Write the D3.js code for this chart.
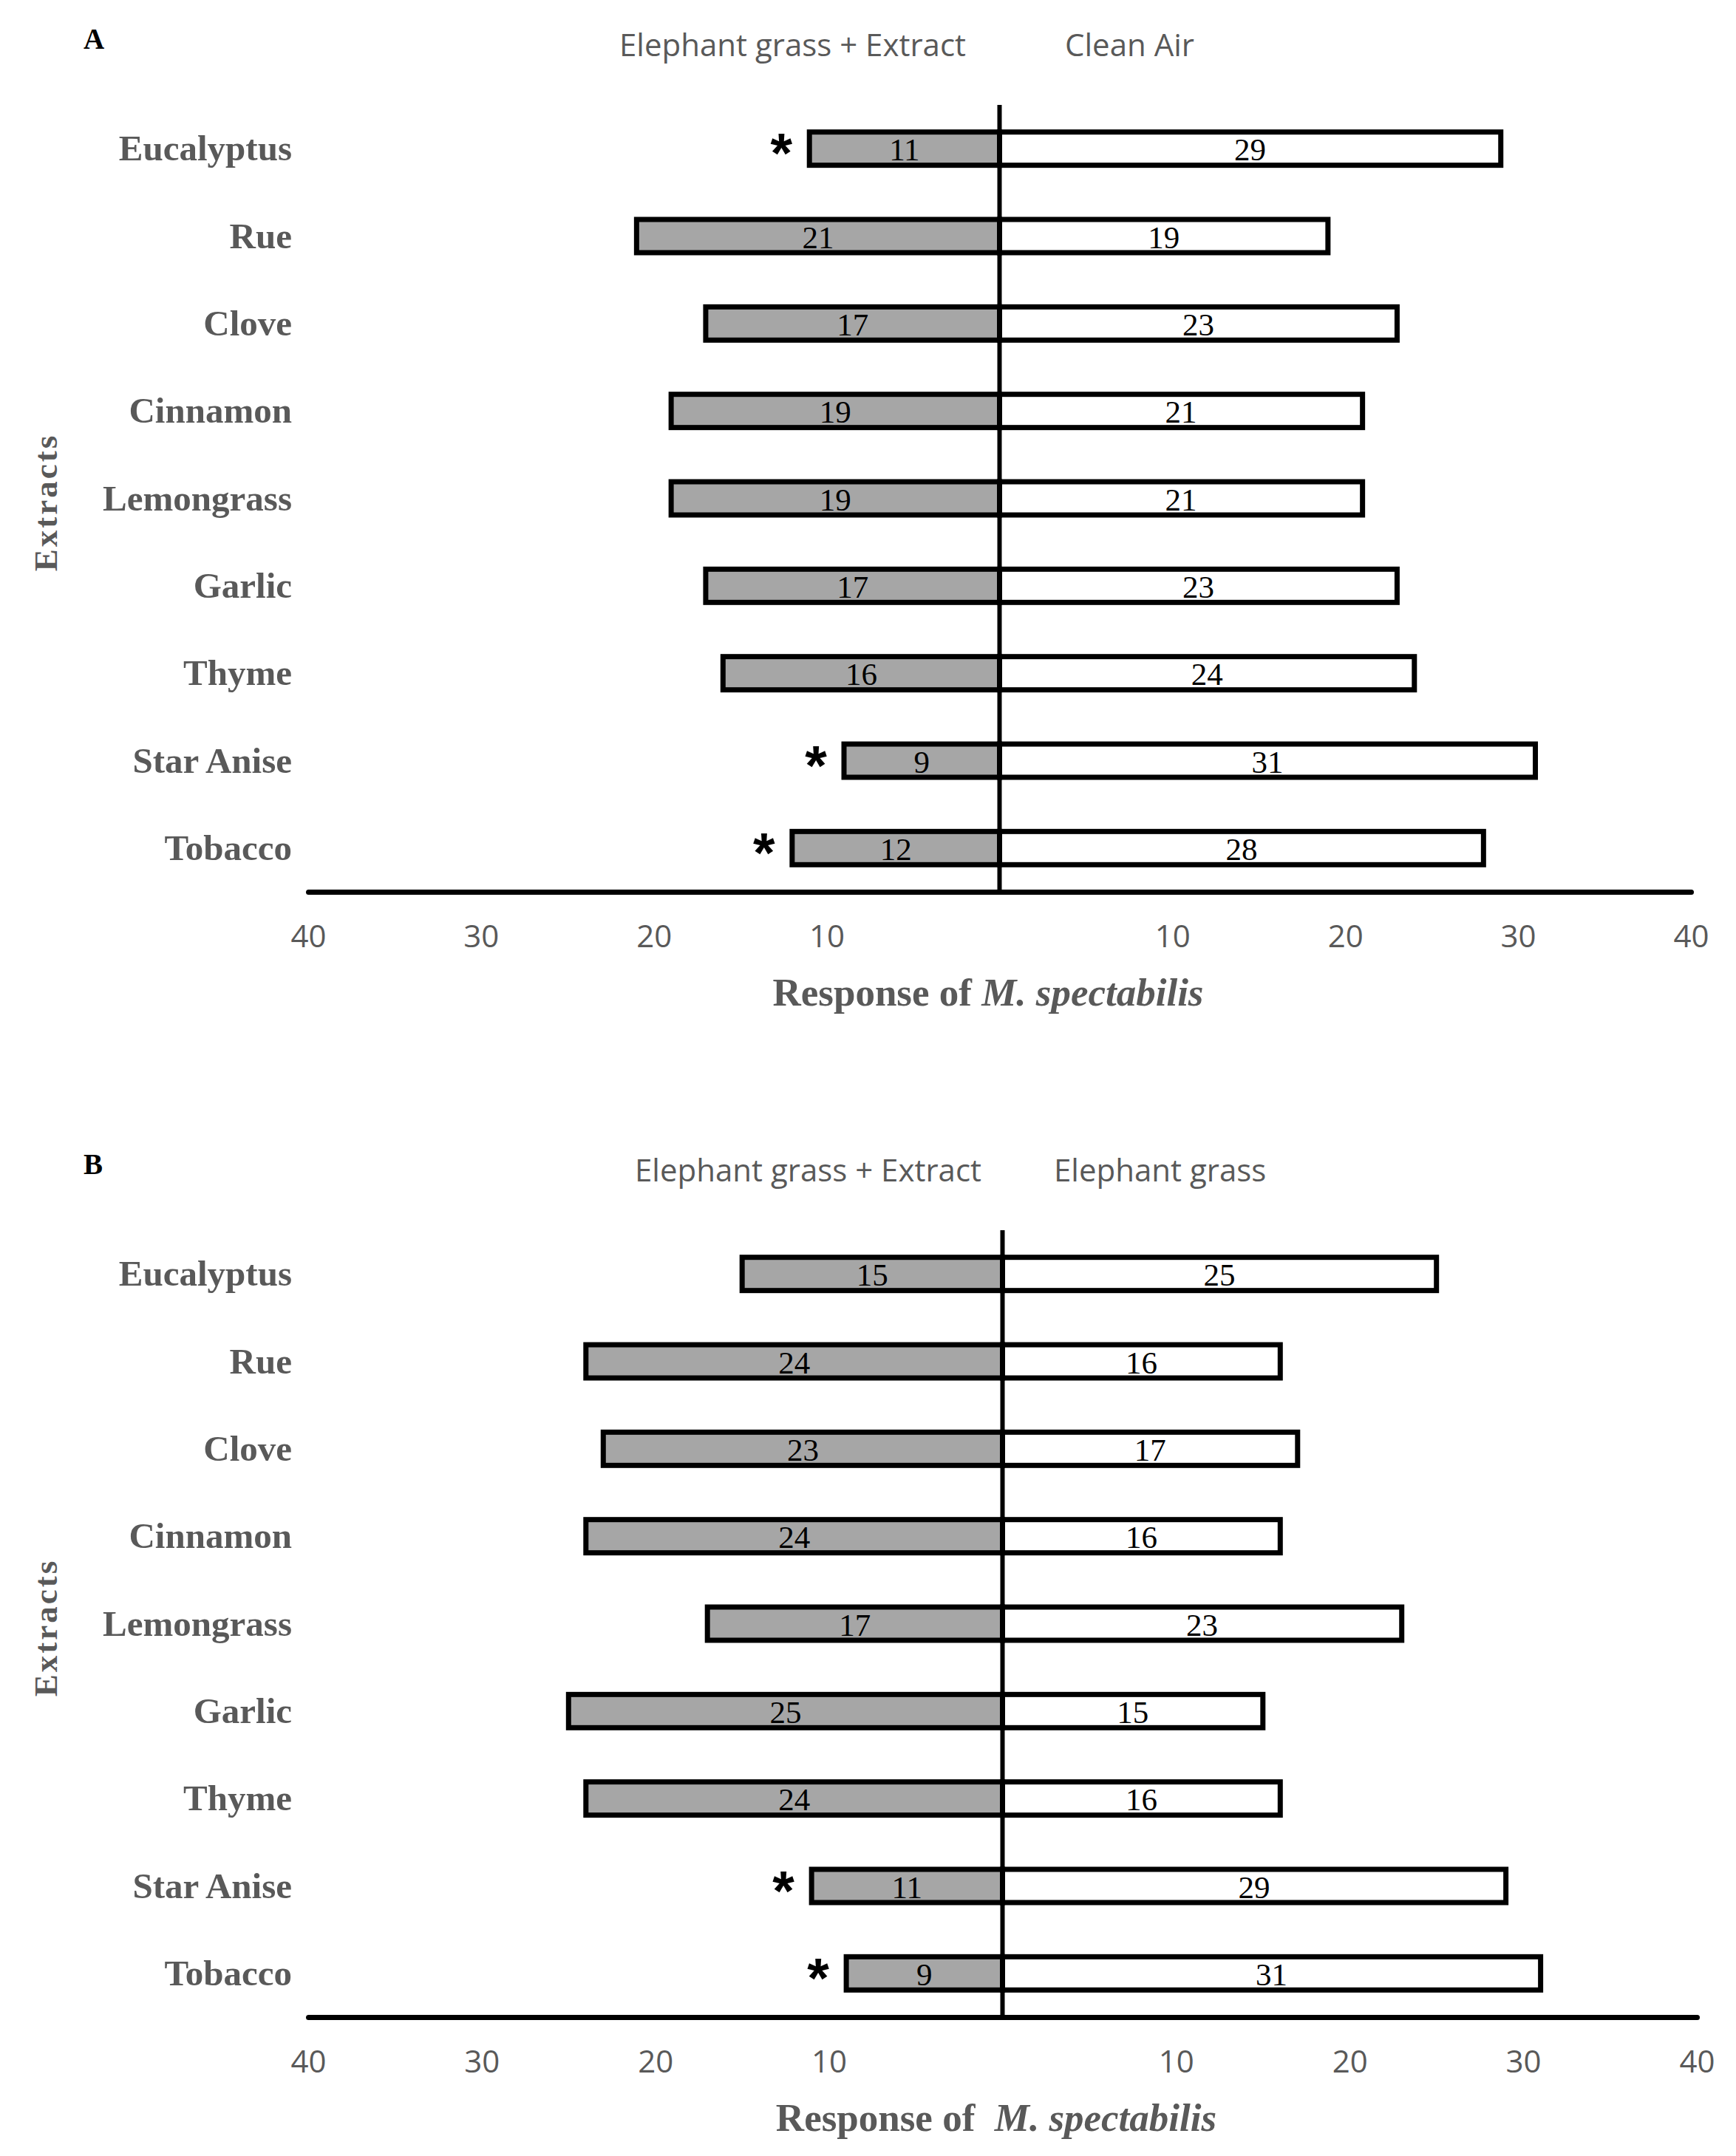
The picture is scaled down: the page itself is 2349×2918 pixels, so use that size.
<!DOCTYPE html>
<html>
<head>
<meta charset="utf-8">
<script src="https://cdn.jsdelivr.net/npm/d3@7"></script>
<style>
  body { margin: 0; background: #fff; }
  svg { display: block; }
</style>
</head>
<body>
<svg id="chart" width="2349" height="2918"></svg>
<script>
(() => {
    // Data
    const extracts = ["Eucalyptus", "Rue", "Clove", "Cinnamon", "Lemongrass", "Garlic", "Thyme", "Star Anise", "Tobacco"];

    const extractA = [11, 21, 17, 19, 19, 17, 16, 9, 12];
    const cleanAirA = [29, 19, 23, 21, 21, 23, 24, 31, 28];
    const signifA = ["Eucalyptus", "Star Anise", "Tobacco"];

    const extractB = [15, 24, 23, 24, 17, 25, 24, 11, 9];
    const grassB = [25, 16, 17, 16, 23, 15, 16, 29, 31];
    const signifB = ["Star Anise", "Tobacco"];

    const tickValues = [-40, -30, -20, -10, 10, 20, 30, 40];

    const svg = d3.select("#chart");
    const grey = "#595959";
    const top = 142, bottom = 1207;

    function drawPanel(p) {
        const g = svg.append("g").attr("transform", `translate(0,${p.top})`);

        const x = d3.scaleLinear().domain([-40, 40]).range([417, p.right]);
        const y = d3.scaleBand().domain(extracts).range([top, bottom])
            .paddingInner(0.62).paddingOuter(0.31);

        const rows = extracts.map((name, i) => ({ name, left: p.left[i], right: p.rightVals[i] }));

        // panel letter
        g.append("text").attr("x", 113).attr("y", 66)
            .attr("font-family", "Liberation Serif").attr("font-weight", "bold")
            .attr("font-size", 39).attr("fill", "#000").text(p.letter);

        // legend texts
        g.append("text").attr("x", p.legLeftX).attr("y", 76).attr("text-anchor", "end")
            .attr("font-family", "Open Sans").attr("font-size", 42).attr("fill", grey)
            .text("Elephant grass + Extract");
        g.append("text").attr("x", p.legRightX).attr("y", 76).attr("text-anchor", "start")
            .attr("font-family", "Open Sans").attr("font-size", 42).attr("fill", grey)
            .text(p.rightName);

        // category labels
        g.selectAll(".cat").data(extracts).join("text")
            .attr("class", "cat")
            .attr("x", 395).attr("y", d => y(d) + y.bandwidth() / 2 + 16)
            .attr("text-anchor", "end")
            .attr("font-family", "Liberation Serif").attr("font-weight", "bold")
            .attr("font-size", 49).attr("fill", grey)
            .text(d => d);

        // bars
        g.selectAll(".barL").data(rows).join("rect")
            .attr("class", "barL")
            .attr("x", d => x(-d.left)).attr("y", d => y(d.name))
            .attr("width", d => x(0) - x(-d.left)).attr("height", y.bandwidth())
            .attr("fill", "#a6a6a6").attr("stroke", "#000").attr("stroke-width", 7);

        g.selectAll(".barR").data(rows).join("rect")
            .attr("class", "barR")
            .attr("x", x(0)).attr("y", d => y(d.name))
            .attr("width", d => x(d.right) - x(0)).attr("height", y.bandwidth())
            .attr("fill", "#fff").attr("stroke", "#000").attr("stroke-width", 7);

        // value labels
        const valText = (key, fn) => g.selectAll("." + key).data(rows).join("text")
            .attr("class", key)
            .attr("x", fn).attr("y", d => y(d.name) + y.bandwidth() / 2 + 16)
            .attr("text-anchor", "middle")
            .attr("font-family", "Liberation Serif").attr("font-size", 43).attr("fill", "#000");
        valText("valL", d => (x(-d.left) + x(0)) / 2).text(d => d.left);
        valText("valR", d => (x(d.right) + x(0)) / 2).text(d => d.right);

        // significance stars
        g.selectAll(".star").data(rows.filter(d => p.signif.includes(d.name))).join("text")
            .attr("class", "star")
            .attr("x", d => x(-d.left) - 38).attr("y", d => y(d.name) + y.bandwidth() / 2 + 32)
            .attr("text-anchor", "middle")
            .attr("font-family", "Liberation Sans").attr("font-weight", "bold")
            .attr("font-size", 76).attr("fill", "#000").text("*");

        // centre line
        g.append("line")
            .attr("x1", x(0)).attr("x2", x(0)).attr("y1", top).attr("y2", bottom)
            .attr("stroke", "#000").attr("stroke-width", 6);

        // x axis
        const axis = g.append("g").attr("transform", `translate(0,${bottom})`)
            .call(d3.axisBottom(x).tickValues(tickValues).tickSize(0).tickSizeOuter(0)
                .tickFormat(d => Math.abs(d)));
        axis.select(".domain").attr("stroke", "#000").attr("stroke-width", 7)
            .attr("stroke-linecap", "round");
        axis.selectAll("text").attr("y", 60).attr("dy", "0.35em")
            .attr("font-family", "Open Sans").attr("font-size", 42).attr("fill", grey);

        // axis titles
        const xt = g.append("text").attr("x", p.titleX).attr("y", 1361)
            .attr("text-anchor", "middle").style("white-space", "pre")
            .attr("font-family", "Liberation Serif").attr("font-weight", "bold")
            .attr("font-size", 53).attr("fill", grey);
        xt.append("tspan").text(p.titleLead);
        xt.append("tspan").attr("font-style", "italic").text("M. spectabilis");

        g.append("text")
            .attr("transform", "translate(77,680) rotate(-90)")
            .attr("text-anchor", "middle")
            .attr("font-family", "Liberation Serif").attr("font-weight", "bold")
            .attr("font-size", 45).attr("letter-spacing", 3).attr("fill", grey)
            .text("Extracts");
    }

    drawPanel({
        top: 0, letter: "A", right: 2288,
        left: extractA, rightVals: cleanAirA, signif: signifA,
        rightName: "Clean Air", legLeftX: 1307, legRightX: 1441,
        titleX: 1337, titleLead: "Response of "
    });

    drawPanel({
        top: 1523, letter: "B", right: 2296,
        left: extractB, rightVals: grassB, signif: signifB,
        rightName: "Elephant grass", legLeftX: 1328, legRightX: 1426,
        titleX: 1348, titleLead: "Response of  "
    });
})();
</script>
</body>
</html>
